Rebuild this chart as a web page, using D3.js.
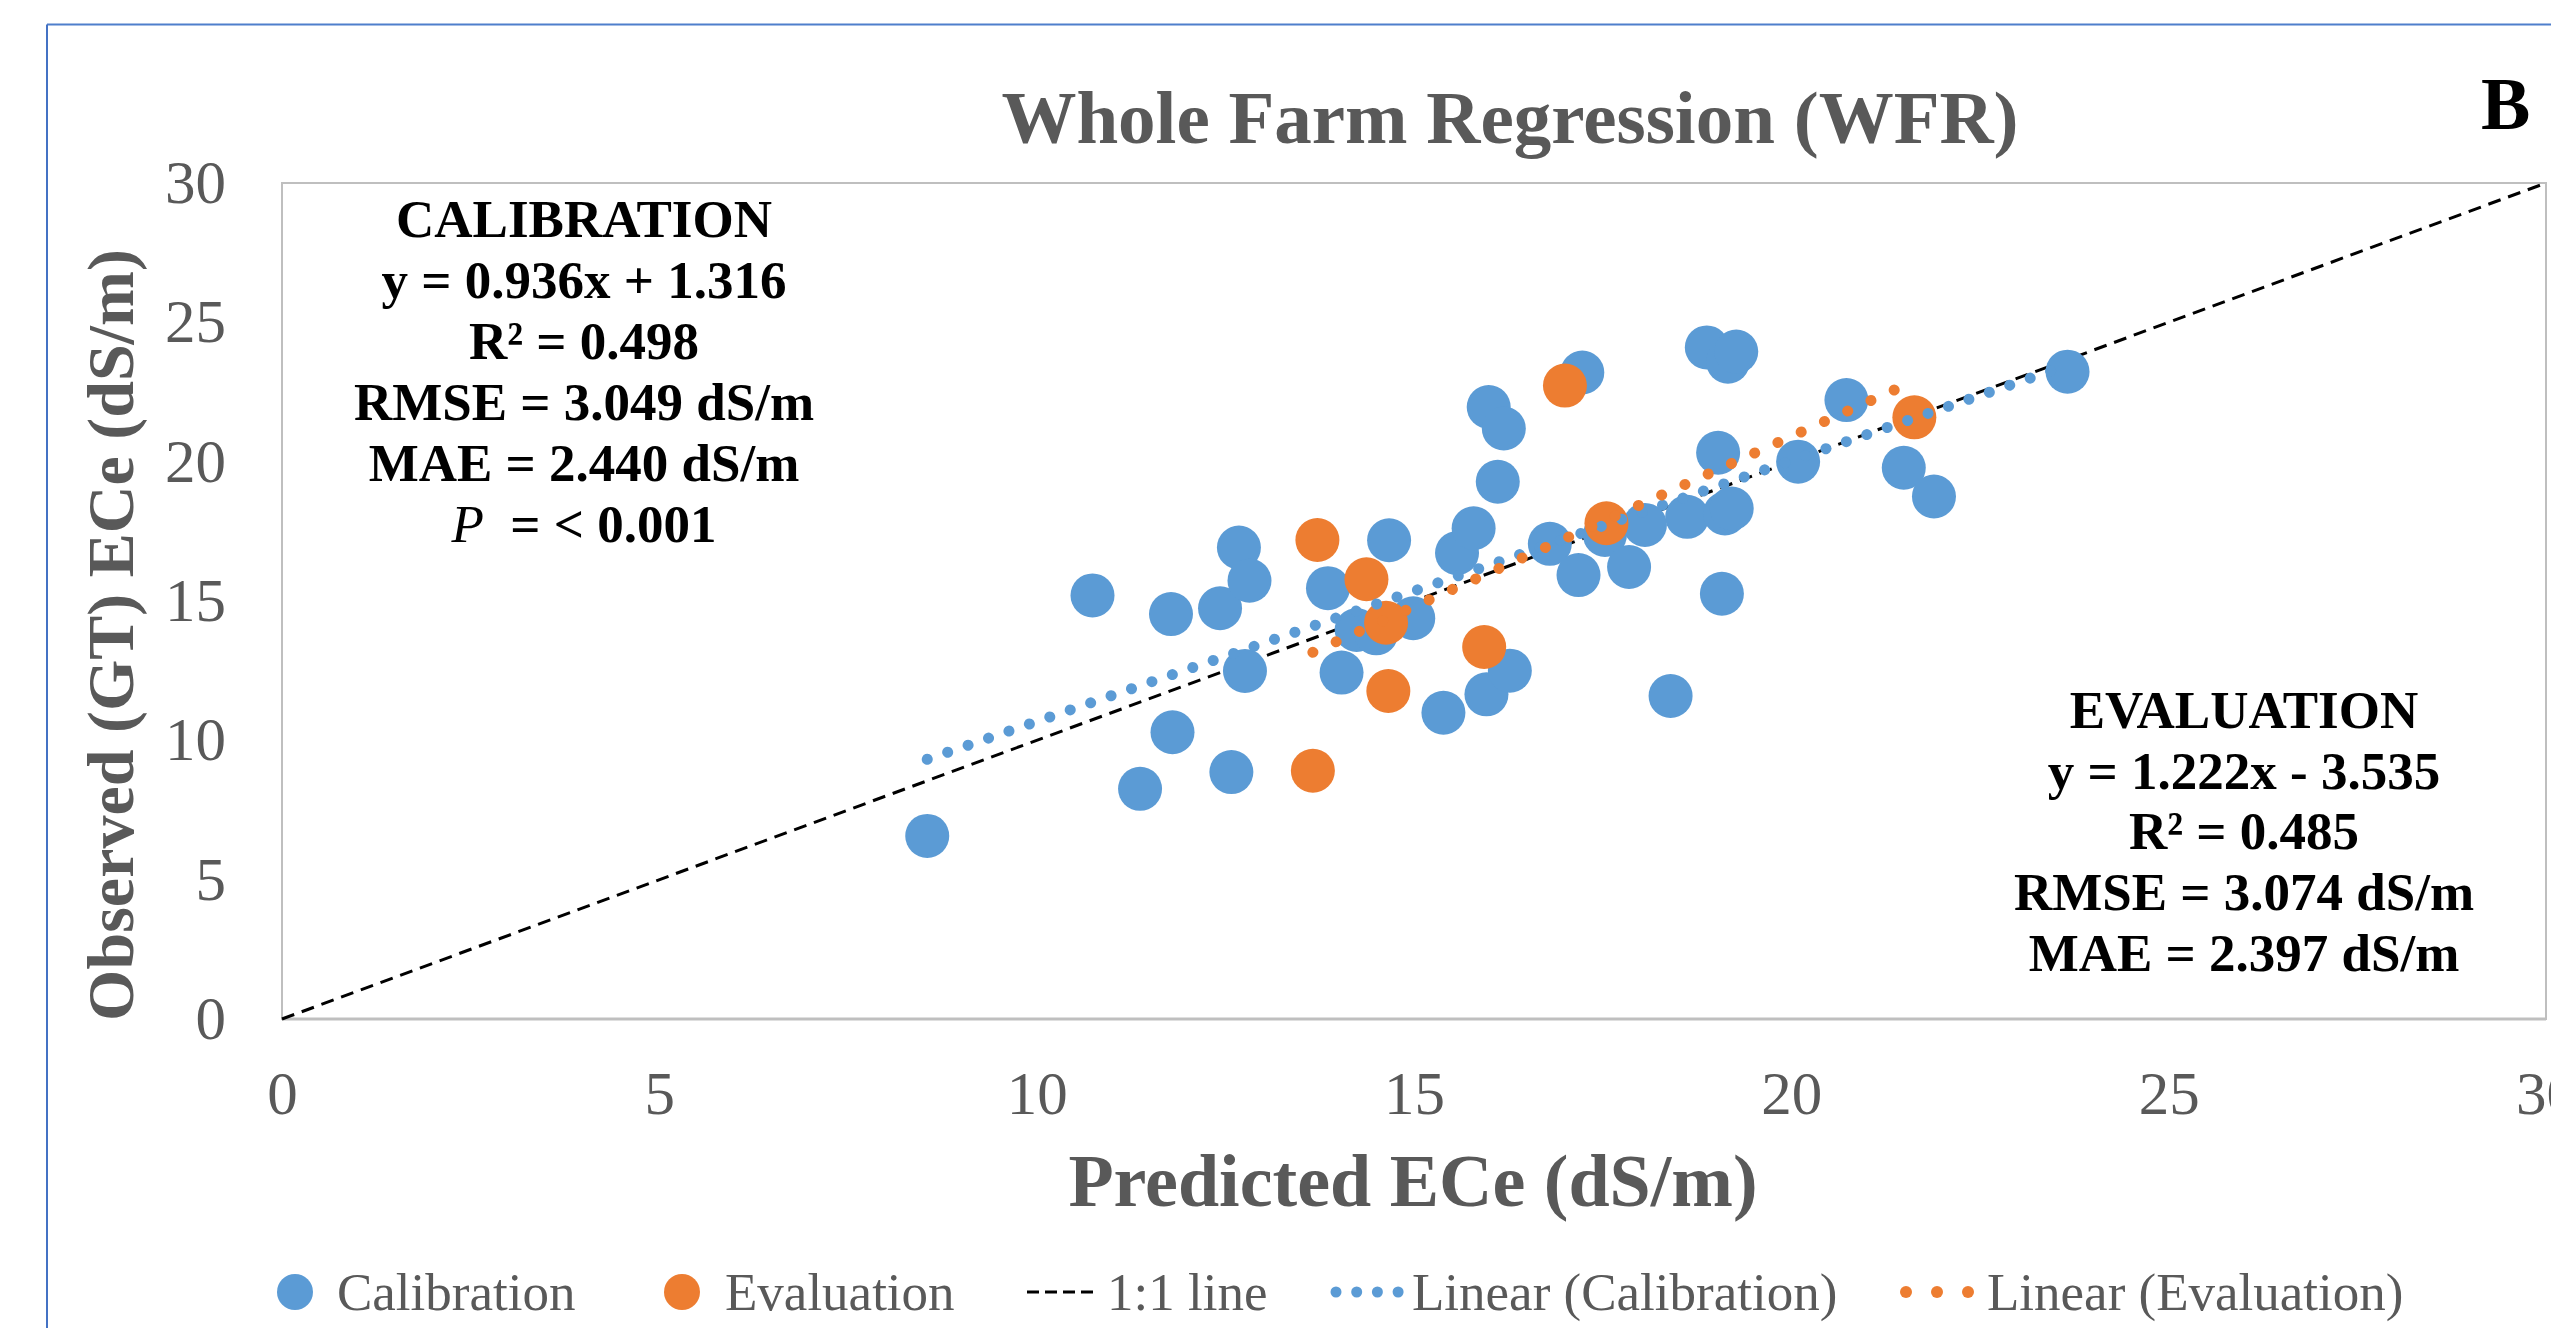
<!DOCTYPE html>
<html>
<head>
<meta charset="utf-8">
<script src="https://cdn.jsdelivr.net/npm/d3@7"></script>
<style>
  html, body { margin: 0; padding: 0; background: #fff; }
  svg { display: block; font-family: "Liberation Serif", "Times New Roman", serif; }
</style>
</head>
<body>
<script>
// ---------------- DATA ----------------
const calibX = [8.55, 10.74, 11.37, 11.78, 11.80, 12.43, 12.58, 12.68, 12.82, 12.76,
                13.86, 14.04, 14.24, 14.50, 14.67, 14.99, 15.39, 15.57, 15.79, 15.96,
                15.99, 16.19, 16.11, 16.27, 16.80, 17.18, 17.23, 17.53, 17.85, 18.06,
                18.40, 18.62, 18.88, 19.16, 19.27, 19.03, 19.12, 19.21, 19.08, 20.09,
                20.73, 21.49, 21.89, 23.66];
const calibY = [6.57, 15.20, 8.26, 14.53, 10.29, 14.74, 8.86, 16.92, 15.73, 12.49,
                15.46, 12.43, 13.96, 13.84, 17.18, 14.38, 10.99, 16.72, 17.61, 11.65,
                21.96, 21.19, 19.28, 12.50, 17.05, 15.93, 23.20, 17.37, 16.22, 17.73,
                11.59, 18.02, 24.10, 23.59, 23.95, 20.32, 18.14, 18.32, 15.26, 20.00,
                22.21, 19.78, 18.75, 23.23];
const evalX = [13.66, 13.72, 14.37, 14.63, 14.66, 15.93, 17.00, 17.55, 21.63];
const evalY = [8.91, 17.19, 15.78, 14.22, 11.77, 13.35, 22.73, 17.79, 21.59];

const calibFit = [0.936, 1.316];   // slope, intercept
const evalFit = [1.222, -3.535];
const oneToOne = [0, 30];

const xTicks = [0, 5, 10, 15, 20, 25, 30];
const yTicks = [0, 5, 10, 15, 20, 25, 30];

const titleText = "Whole Farm Regression (WFR)";
const panelLabel = "B";
const xTitle = "Predicted ECe (dS/m)";
const yTitle = "Observed (GT) ECe (dS/m)";
const calibLines = ["CALIBRATION", "y = 0.936x + 1.316", "R\u00B2 = 0.498", "RMSE = 3.049 dS/m", "MAE = 2.440 dS/m"];
const calibP = ["P", "  = < 0.001"];
const evalLines = ["EVALUATION", "y = 1.222x - 3.535", "R\u00B2 = 0.485", "RMSE = 3.074 dS/m", "MAE = 2.397 dS/m"];
const legendLabels = ["Calibration", "Evaluation", "1:1 line", "Linear (Calibration)", "Linear (Evaluation)"];

// ---------------- STYLE ----------------
const W = 2551, H = 1328;
const BLUE = "#5B9BD5", ORANGE = "#ED7D31", GRAY = "#595959", GRID = "#BFBFBF";

const svg = d3.select("body").append("svg").attr("width", W).attr("height", H);
svg.append("rect").attr("width", W).attr("height", H).attr("fill", "#fff");

// outer chart border (only top and left visible)
svg.append("line").attr("x1", 47).attr("x2", W).attr("y1", 24.5).attr("y2", 24.5)
  .attr("stroke", "#4F7FCC").attr("stroke-width", 2);
svg.append("line").attr("x1", 47).attr("x2", 47).attr("y1", 24.5).attr("y2", H)
  .attr("stroke", "#4472C4").attr("stroke-width", 2);

const x = d3.scaleLinear().domain([0, 30]).range([282, 2546]);
const y = d3.scaleLinear().domain([0, 30]).range([1019, 183]);

// plot area border
svg.append("rect").attr("x", x(0)).attr("y", y(30)).attr("width", x(30) - x(0)).attr("height", y(0) - y(30))
  .attr("fill", "none").attr("stroke", GRID).attr("stroke-width", 2);
svg.append("line").attr("x1", x(0)).attr("x2", x(30)).attr("y1", y(0)).attr("y2", y(0))
  .attr("stroke", GRID).attr("stroke-width", 3);

// axes
const xAxis = svg.append("g").attr("transform", `translate(0,${y(0)})`)
  .call(d3.axisBottom(x).tickValues(xTicks).tickSize(0).tickPadding(52).tickFormat(d3.format("d")));
const yAxis = svg.append("g").attr("transform", `translate(${x(0)},0)`)
  .call(d3.axisLeft(y).tickValues(yTicks).tickSize(0).tickPadding(56).tickFormat(d3.format("d")));
[xAxis, yAxis].forEach(g => {
  g.select(".domain").remove();
  g.selectAll("text").attr("font-family", "Liberation Serif").attr("font-size", 61).attr("fill", GRAY);
});

// 1:1 line
svg.append("line")
  .attr("x1", x(oneToOne[0])).attr("y1", y(oneToOne[0]))
  .attr("x2", x(oneToOne[1])).attr("y2", y(oneToOne[1]))
  .attr("stroke", "#000").attr("stroke-width", 3).attr("stroke-dasharray", "13,8");

// markers
const calib = calibX.map((v, i) => [v, calibY[i]]);
const evals = evalX.map((v, i) => [v, evalY[i]]);
svg.append("g").selectAll("circle").data(calib).join("circle")
  .attr("cx", d => x(d[0])).attr("cy", d => y(d[1])).attr("r", 22).attr("fill", BLUE);
svg.append("g").selectAll("circle").data(evals).join("circle")
  .attr("cx", d => x(d[0])).attr("cy", d => y(d[1])).attr("r", 22).attr("fill", ORANGE);

// trend lines
function trend(xs, fit, color, gap) {
  const [x0, x1] = d3.extent(xs);
  svg.append("line")
    .attr("x1", x(x0)).attr("y1", y(fit[0] * x0 + fit[1]))
    .attr("x2", x(x1)).attr("y2", y(fit[0] * x1 + fit[1]))
    .attr("stroke", color).attr("stroke-width", 11).attr("stroke-linecap", "round")
    .attr("stroke-dasharray", `0.01,${gap}`);
}
trend(calibX, calibFit, BLUE, 21.6);
trend(evalX, evalFit, ORANGE, 25.5);

// title
svg.append("text").attr("x", 1510).attr("y", 143).attr("text-anchor", "middle")
  .attr("font-size", 75).attr("font-weight", "bold").attr("fill", GRAY).text(titleText);
svg.append("text").attr("x", 2481).attr("y", 129)
  .attr("font-size", 74).attr("font-weight", "bold").attr("fill", "#000").text(panelLabel);

// axis titles
svg.append("text").attr("x", 1413).attr("y", 1206).attr("text-anchor", "middle")
  .attr("font-size", 74).attr("font-weight", "bold").attr("fill", GRAY).text(xTitle);
svg.append("text").attr("transform", "translate(133,635) rotate(-90)").attr("text-anchor", "middle")
  .attr("font-size", 66).attr("font-weight", "bold").attr("fill", GRAY).text(yTitle);

// stats blocks
function block(lines, cx, y0, step) {
  lines.forEach((t, i) => {
    svg.append("text").attr("x", cx).attr("y", y0 + i * step).attr("text-anchor", "middle")
      .attr("font-size", 53).attr("font-weight", "bold").attr("fill", "#000").text(t);
  });
}
block(calibLines, 584, 237, 61);
const pt = svg.append("text").attr("x", 584).attr("y", 237 + 5 * 61).attr("text-anchor", "middle")
  .attr("font-size", 53).attr("fill", "#000").style("white-space", "pre");
pt.append("tspan").attr("font-style", "italic").text(calibP[0]);
pt.append("tspan").attr("font-weight", "bold").text(calibP[1]);
block(evalLines, 2244, 728, 60.7);

// legend
const ly = 1292, lb = 1310, lfs = 53;
const leg = svg.append("g");
leg.append("circle").attr("cx", 295).attr("cy", ly).attr("r", 18).attr("fill", BLUE);
leg.append("text").attr("x", 337).attr("y", lb).attr("font-size", lfs).attr("fill", GRAY).text(legendLabels[0]);
leg.append("circle").attr("cx", 682).attr("cy", ly).attr("r", 18).attr("fill", ORANGE);
leg.append("text").attr("x", 725).attr("y", lb).attr("font-size", lfs).attr("fill", GRAY).text(legendLabels[1]);
leg.append("line").attr("x1", 1027).attr("x2", 1093).attr("y1", ly).attr("y2", ly)
  .attr("stroke", "#000").attr("stroke-width", 3).attr("stroke-dasharray", "12,6");
leg.append("text").attr("x", 1107).attr("y", lb).attr("font-size", lfs).attr("fill", GRAY).text(legendLabels[2]);
leg.selectAll(".bd").data(d3.range(4)).join("circle").attr("class", "bd")
  .attr("cx", i => 1336 + i * 20.7).attr("cy", ly).attr("r", 5.5).attr("fill", BLUE);
leg.append("text").attr("x", 1412).attr("y", lb).attr("font-size", lfs).attr("fill", GRAY).text(legendLabels[3]);
leg.selectAll(".od").data(d3.range(3)).join("circle").attr("class", "od")
  .attr("cx", i => 1906 + i * 31).attr("cy", ly).attr("r", 6).attr("fill", ORANGE);
leg.append("text").attr("x", 1987).attr("y", lb).attr("font-size", lfs).attr("fill", GRAY).text(legendLabels[4]);
</script>
</body>
</html>
